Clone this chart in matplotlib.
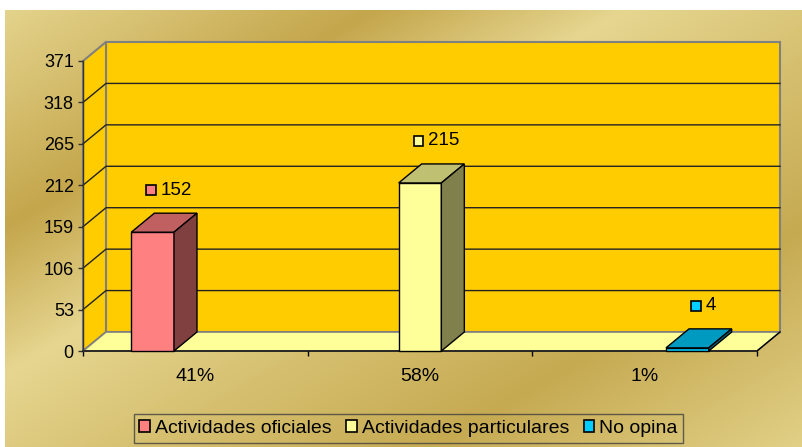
"""3D-style column chart: actividades oficiales / particulares / no opina."""

import matplotlib
matplotlib.use("Agg")
import matplotlib.pyplot as plt
import numpy as np
from matplotlib.lines import Line2D
from matplotlib.offsetbox import AnnotationBbox, DrawingArea, HPacker, TextArea
from matplotlib.patches import Patch, Polygon, Rectangle
from matplotlib.transforms import IdentityTransform

plt.rcParams["font.family"] = ["Liberation Sans", "DejaVu Sans"]

categories = ["41%", "58%", "1%"]
series_names = ["Actividades oficiales", "Actividades particulares", "No opina"]
oficiales = [152, None, None]
particulares = [None, 215, None]
no_opina = [None, None, 4]
y_ticks = [0, 53, 106, 159, 212, 265, 318, 371]

FRONT = ["#FF8080", "#FFFF99", "#00CCFF"]
TOP = ["#C06060", "#C0C073", "#0099C0"]
SIDE = ["#804040", "#80804D", "#006680"]
WALL = "#FFCC00"
FLOOR = "#FFFF99"
EDGE = "#808080"
DX, DY = 23, 19          # depth offset in pixels
BW = 0.19                # bar width in category units


def main():
    fig = plt.figure(figsize=(8.02, 4.47), dpi=100)

    # gold textured background
    bg = fig.add_axes([5 / 802, 0, 797 / 802, 437 / 447])
    yy, xx = np.mgrid[0:437, 0:797]
    s = (xx + 5) + 1.7 * (yy + 10)
    stops = [0, 390, 640, 900, 1190, 1600]
    cols = np.array([[230, 214, 144], [196, 166, 76], [230, 214, 144],
                     [214, 192, 112], [198, 170, 82], [228, 212, 140]]) / 255
    img = np.stack([np.interp(s, stops, cols[:, k]) for k in range(3)], axis=-1)
    bg.imshow(img, aspect="auto")
    bg.axis("off")

    ax = fig.add_axes([83 / 802, 1 - 351 / 447, 674 / 802, 290 / 447])
    ax.set_xlim(0, 3)
    ax.set_ylim(0, y_ticks[-1])
    ax.patch.set_visible(False)
    for sp in ax.spines.values():
        sp.set_visible(False)
    ymax = y_ticks[-1]

    def proj(pts):
        out = []
        for x, y, d in pts:
            px, py = ax.transData.transform((x, y))
            out.append((px + d * DX, py + d * DY))
        return out

    def face(pts, fc, ec, lw=1.0, z=1):
        ax.add_patch(Polygon(proj(pts), closed=True, transform=IdentityTransform(),
                             facecolor=fc, edgecolor=ec, lw=lw, zorder=z, clip_on=False))

    def line(pts, color, lw=1.0, z=2):
        p = np.array(proj(pts))
        ax.add_line(Line2D(p[:, 0], p[:, 1], transform=IdentityTransform(),
                           color=color, lw=lw, zorder=z, clip_on=False))

    # walls and floor
    face([(0, 0, 1), (3, 0, 1), (3, ymax, 1), (0, ymax, 1)], WALL, EDGE, 1.5)
    face([(0, 0, 0), (0, 0, 1), (0, ymax, 1), (0, ymax, 0)], WALL, EDGE, 1.5)
    for t in y_ticks[1:-1]:
        line([(0, t, 0), (0, t, 1), (3, t, 1)], "#222222", 1.0)
    face([(0, 0, 0), (3, 0, 0), (3, 0, 1), (0, 0, 1)], FLOOR, EDGE, 1.2)
    line([(0, 0, 0), (3, 0, 0), (3, 0, 1)], "black", 1.0, 2.5)
    line([(0, 0, 0), (0, ymax, 0)], "#333333", 1.0, 2.5)

    # bars
    for j, vals in enumerate([oficiales, particulares, no_opina]):
        for i, v in enumerate(vals):
            if v is None:
                continue
            c = i + 0.5 + (j - 1) * BW
            x0, x1 = c - BW / 2, c + BW / 2
            face([(x0, 0, 0), (x1, 0, 0), (x1, v, 0), (x0, v, 0)], FRONT[j], "black", 1.0, 3)
            face([(x0, v, 0), (x1, v, 0), (x1, v, 1), (x0, v, 1)], TOP[j], "black", 1.0, 3)
            face([(x1, 0, 0), (x1, v, 0), (x1, v, 1), (x1, 0, 1)], SIDE[j], "black", 1.0, 3)

            da = DrawingArea(8, 8, 0, 0)
            da.add_artist(Rectangle((0.6, 0.6), 6.8, 6.8, facecolor=FRONT[j],
                                    edgecolor="black", lw=1.2))
            ta = TextArea(str(v), textprops=dict(fontsize=13.5, color="black"))
            box = HPacker(children=[da, ta], align="center", pad=0, sep=3)
            ab = AnnotationBbox(box, (c, v), xybox=(16, 42), xycoords="data",
                                boxcoords="offset pixels", frameon=False,
                                box_alignment=(0.5, 0.5), zorder=4)
            ax.add_artist(ab)

    # axes ticks and labels
    ax.set_yticks(y_ticks)
    ax.set_yticklabels([str(t) for t in y_ticks])
    ax.tick_params(axis="y", direction="out", length=3.6, width=1, pad=3,
                   labelsize=13, color="#333333")
    ax.set_xticks([0, 1, 2, 3])
    ax.set_xticklabels([])
    ax.tick_params(axis="x", which="major", direction="out", length=3.6, width=1,
                   color="black")
    ax.set_xticks([0.5, 1.5, 2.5], minor=True)
    ax.set_xticklabels(categories, minor=True)
    ax.tick_params(axis="x", which="minor", length=0, pad=12, labelsize=14)

    handles = [Patch(facecolor=FRONT[j], edgecolor="black", lw=1.2, label=series_names[j])
               for j in range(3)]
    fig.legend(handles=handles, loc="upper center",
               bbox_to_anchor=(408.5 / 802, 1 - 414 / 447), ncol=3, frameon=True,
               fancybox=False, edgecolor="#404040", facecolor="none", fontsize=14,
               handlelength=0.55, handleheight=0.55, handletextpad=0.25,
               columnspacing=0.75, borderpad=0.3, borderaxespad=0)

    fig.savefig("out.png", dpi=100)
    plt.close(fig)


if __name__ == "__main__":
    main()
